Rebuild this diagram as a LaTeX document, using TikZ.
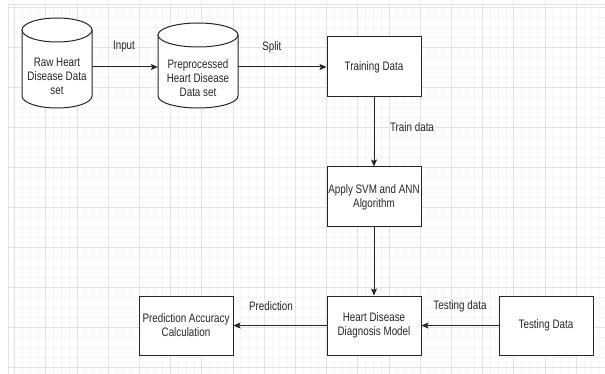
\documentclass[tikz,border=0pt]{standalone}
\usepackage{fontspec}
\setmainfont{Liberation Sans}[FakeStretch=0.8]
\usetikzlibrary{arrows.meta}
\definecolor{ink}{HTML}{262626}
\definecolor{gmaj}{HTML}{E3E3E3}
\definecolor{gmin}{HTML}{F5F5F5}
\tikzset{
  boxnode/.style={draw=ink, line width=1pt, fill=white, minimum width=94pt, minimum height=59pt, inner sep=0pt, align=center, text=ink, font=\fontsize{12.3}{14}\selectfont},
  cylbody/.style={draw=none, inner sep=0pt, align=center, text=ink, font=\fontsize{12.3}{14}\selectfont},
  cylline/.style={draw=ink, line width=1pt, fill=white},
  arr/.style={draw=ink, line width=1pt, -{Stealth[length=7pt, width=6pt, inset=1.5pt]}},
  lbl/.style={text=ink, font=\fontsize{12.3}{14}\selectfont, inner sep=0pt},
  minorline/.style={draw=gmin, line width=0.5pt},
  majorline/.style={draw=gmaj, line width=0.7pt}
}
\begin{document}
\begin{tikzpicture}[x=1pt, y=-1pt]
\useasboundingbox (0,0) rectangle (605,374);
\fill[white] (0,0) rectangle (605,374);
% grid
\begin{scope}
\clip (8,4) rectangle (605,374);
\foreach \j in {0,...,76} { \draw[minorline] ({14.5+7.8*\j},0) -- ({14.5+7.8*\j},374); }
\foreach \j in {0,...,36} { \draw[minorline] (0,{7+10*\j}) -- (605,{7+10*\j}); }
\foreach \i in {0,...,18} { \draw[majorline] ({14.5+31.2*\i},0) -- ({14.5+31.2*\i},374); }
\foreach \i in {0,...,9} { \draw[majorline] (0,{7+40*\i}) -- (605,{7+40*\i}); }
\draw[majorline] (8,4) -- (8,374);
\draw[majorline] (8,4) -- (605,4);
\end{scope}
% cylinder 1
\path[cylline] (22,30) -- (22,96) .. controls (22,102.6) and (37.7,108) .. (57,108) .. controls (76.3,108) and (92,102.6) .. (92,96) -- (92,30);
\draw[cylline] (57,30) ellipse [x radius=35pt, y radius=12pt];
% cylinder 2
\path[cylline] (158,35) -- (158,96) .. controls (158,102.6) and (175.9,108) .. (198,108) .. controls (220.1,108) and (238,102.6) .. (238,96) -- (238,35);
\draw[cylline] (198,35) ellipse [x radius=40pt, y radius=12pt];
% nodes
\node[cylbody, minimum width=70pt, minimum height=66pt] (raw) at (57,76) {Raw Heart\\Disease Data\\set};
\node[cylbody, minimum width=80pt, minimum height=61pt] (pre) at (198,78) {Preprocessed\\Heart Disease\\Data set};
\node[boxnode, minimum height=60pt] (tr) at (374,67) {Training Data};
\node[boxnode, minimum height=60pt] (svm) at (374,197) {Apply SVM and ANN\\Algorithm};
\node[boxnode] (hdd) at (374,325.5) {Heart Disease\\Diagnosis Model};
\node[boxnode] (pac) at (186,325.5) {Prediction Accuracy\\Calculation};
\node[boxnode] (tst) at (546,325.5) {Testing Data};
% connectors
\draw[arr] (raw.east |- tr.west) -- node[lbl, midway, xshift=-1pt, yshift=20pt] {Input} (pre.west |- tr.west);
\draw[arr] (pre.east |- tr.west) -- node[lbl, midway, xshift=-10.5pt, yshift=20pt] {Split} (tr.west);
\draw[arr] (tr.south) -- node[lbl, midway, xshift=38pt, yshift=5pt] {Train data} (svm.north);
\draw[arr] (svm.south) -- (hdd.north);
\draw[arr] (hdd.west) -- node[lbl, midway, xshift=-9pt, yshift=19.5pt] {Prediction} (pac.east);
\draw[arr] (tst.west) -- node[lbl, midway, yshift=19.5pt] {Testing data} (hdd.east);
\end{tikzpicture}
\end{document}
